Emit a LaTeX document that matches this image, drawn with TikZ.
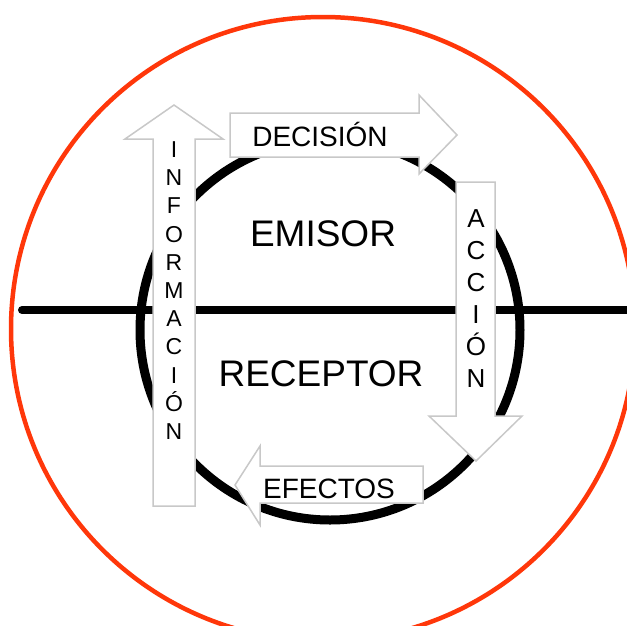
\documentclass[tikz,border=0pt]{standalone}
\usepackage{fontspec}
\setmainfont{Liberation Sans}
\definecolor{ringred}{RGB}{255,55,10}
\definecolor{arrowgray}{RGB}{200,200,200}
\begin{document}
\begin{tikzpicture}[x=1pt,y=-1pt,
  redring/.style={draw=ringred, line width=4.5pt},
  blackring/.style={draw=black, line width=9pt},
  axisline/.style={draw=black, line width=8pt, line cap=round},
  blockarrow/.style={draw=arrowgray, fill=white, line width=1.5pt, line join=miter},
  bigtext/.style={anchor=base, inner sep=0pt, font=\fontsize{37}{37}\selectfont},
  midtext/.style={anchor=base, inner sep=0pt, font=\fontsize{28}{28}\selectfont},
  infoletter/.style={anchor=base, inner sep=0pt, font=\fontsize{23}{23}\selectfont},
  accletter/.style={anchor=base, inner sep=0pt, font=\fontsize{26}{26}\selectfont}]
\useasboundingbox (0,0) rectangle (627,625);
\clip (0,0) rectangle (627,625);
% rings and axis
\draw[redring] (323,329) circle[radius=312];
\draw[blackring] (330,330) circle[radius=190];
\coordinate (axisL) at (22,310);
\coordinate (axisR) at (640,310);
\draw[axisline] (axisL) -- (axisR);
% block arrows
\draw[blockarrow] (153,506) -- (153,139) -- (125,139) -- (174,105) -- (223,139) -- (195,139) -- (195,506) -- cycle;
\draw[blockarrow] (230,113) -- (419,113) -- (419,95) -- (457,135) -- (419,174) -- (419,157) -- (230,157) -- cycle;
\draw[blockarrow] (456,182) -- (495,182) -- (495,416) -- (522,416) -- (476,461) -- (429,416) -- (456,416) -- cycle;
\draw[blockarrow] (423,466) -- (260,466) -- (260,446) -- (235,485) -- (260,525) -- (260,503) -- (423,503) -- cycle;
% texts
\node[bigtext] (emisor) at (323,246) {EMISOR};
\node[bigtext] (receptor) at (321,386) {RECEPTOR};
\node[midtext] (decision) at (320,146) {DECISIÓN};
\node[midtext] (efectos) at (329,498) {EFECTOS};
\foreach \l [count=\i from 0] in {I,N,F,O,R,M,A,C,I,Ó,N}
  \node[infoletter] (info\i) at (174,{157.5+28.2*\i}) {\l};
\foreach \l [count=\i from 0] in {A,C,C,I,Ó,N}
  \node[accletter] (acc\i) at (476,{227.5+32*\i}) {\l};
\end{tikzpicture}
\end{document}
